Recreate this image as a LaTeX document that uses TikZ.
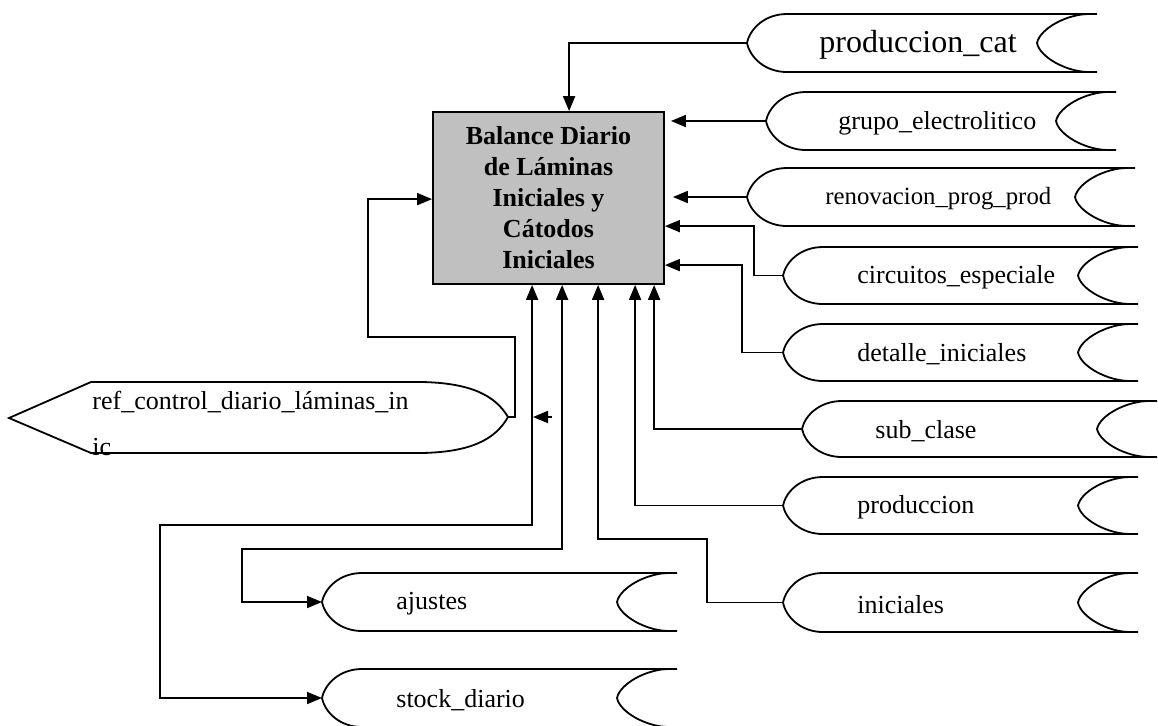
\documentclass[tikz,border=0pt]{standalone}
\usepackage{fontspec}
\setmainfont{Liberation Serif}
\usetikzlibrary{arrows.meta,calc}
\definecolor{gris}{HTML}{C0C0C0}
\tikzset{
  linea/.style={line width=0.9pt},
  flecha/.style={linea,-{Triangle[length=7.5pt,width=6pt]}},
  dobleflecha/.style={linea,{Triangle[length=7.5pt,width=6pt]}-{Triangle[length=7.5pt,width=6pt]}},
  etiqueta/.style={font=\fontsize{13}{15.5}\selectfont,inner sep=0pt,yshift=-1pt},
  proceso/.style={draw,linea,fill=gris,minimum width=115.5pt,minimum height=86pt,
    align=center,font=\fontsize{13}{15.5}\selectfont\bfseries}
}
% archivo: nombre, punta x, arriba y, abajo y, derecha x, texto x, texto
\newcommand{\almacen}[7]{%
  \pgfmathsetmacro{\ym}{(#3+#4)/2}
  \pgfmathsetmacro{\ya}{#3+0.25*(#4-#3)}
  \pgfmathsetmacro{\yb}{#4-0.25*(#4-#3)}
  \draw[linea] (#5,#3) -- (#2+40,#3) .. controls (#2+18,#3) and (#2+3,\ya) .. (#2,\ym)
    .. controls (#2+3,\yb) and (#2+18,#4) .. (#2+40,#4) -- (#5,#4);
  \draw[linea] (#5-8,#3) .. controls (#5-30,#3) and (#5-57,\ya) .. (#5-60,\ym)
    .. controls (#5-57,\yb) and (#5-30,#4) .. (#5-8,#4);
  \coordinate (#1) at (#2,\ym);
  \node[etiqueta,anchor=west] (#1-t) at (#6,\ym) {#7};
}
\begin{document}
\begin{tikzpicture}[x=0.5pt,y=-0.5pt]
\useasboundingbox (0,0) rectangle (1158,725);

\node[proceso] (balance) at (548.5,198) {Balance Diario\\de Láminas\\Iniciales y\\Cátodos\\Iniciales};

\almacen{pcat}{747}{14}{72}{1097}{819}{\fontsize{16}{19}\selectfont produccion\_cat}
\almacen{grupo}{766}{92}{150}{1116}{838}{grupo\_electrolitico}
\almacen{reno}{747}{168}{226}{1135}{825}{\fontsize{12.4}{15}\selectfont renovacion\_prog\_prod}
\almacen{circ}{783}{247}{304}{1138}{857}{circuitos\_especiale}
\almacen{deta}{783}{324}{381}{1138}{857}{detalle\_iniciales}
\almacen{sub}{802}{401}{457}{1157}{875}{sub\_clase}
\almacen{prod}{783}{477}{534}{1138}{857}{produccion}
\almacen{inic}{783}{573}{632}{1138}{857}{iniciales}
\almacen{ajus}{322}{573}{631}{677}{396}{ajustes}
\almacen{stock}{322}{669}{727}{677}{396}{stock\_diario}

\draw[linea] (91,382) -- (422,382) .. controls (470,383) and (495,395) .. (508,417)
  .. controls (495,440) and (470,452) .. (422,453) -- (91,453) -- (9,418) -- cycle;
\coordinate (ref) at (508,417);
\node[etiqueta,align=left,anchor=north west,font=\fontsize{13}{23}\selectfont] (ref-t) at (92,389) {ref\_control\_diario\_láminas\_in\\ic};
\coordinate (suelta) at (552,417);

\draw[flecha] (pcat) -| ($(balance.north west)+(137,0)$);
\draw[flecha] (grupo) -- ($(balance.east |- grupo)+(6,0)$);
\draw[flecha] (reno) -- ($(balance.east |- reno)+(8,0)$);
\draw[flecha] (circ) -- ++(-29,0) |- ($(balance.north east)+(0,115)$);
\draw[flecha] (deta) -- ++(-41,0) |- ($(balance.north east)+(0,154)$);
\draw[flecha] (sub) -| ($(balance.south west)+(222,0)$);
\draw[flecha] (prod) -| ($(balance.south west)+(203,0)$);
\draw[flecha] (inic) -- ++(-76,0) |- ($(balance.south west)+(166,254)$) -- ($(balance.south west)+(166,0)$);
\draw[dobleflecha] (ajus) -- ++(-80,0) |- ($(balance.south west)+(130,264)$) -- ($(balance.south west)+(130,0)$);
\draw[dobleflecha] (stock) -- ++(-162,0) |- ($(balance.south west)+(100,240)$) -- ($(balance.south west)+(100,0)$);
\draw[flecha] (ref) -- ++(7,0) |- ++(-147,-80) |- ($(balance.north west)+(0,88)$);
\draw[flecha] (suelta) -- ++(-19,0);
\end{tikzpicture}
\end{document}
